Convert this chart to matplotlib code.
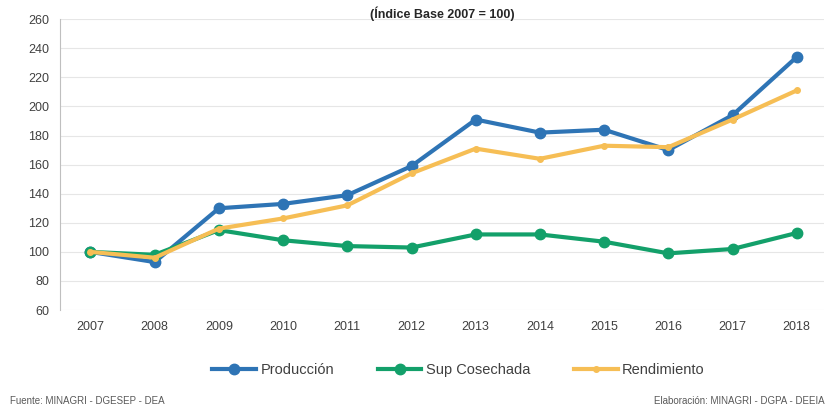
import matplotlib.pyplot as plt

# Indices (base 2007 = 100)
years = ['2007', '2008', '2009', '2010', '2011', '2012',
         '2013', '2014', '2015', '2016', '2017', '2018']
produccion = [100, 93, 130, 133, 139, 159, 191, 182, 184, 170, 194, 234]
sup_cosechada = [100, 98, 115, 108, 104, 103, 112, 112, 107, 99, 102, 113]
rendimiento = [100, 96, 116, 123, 132, 154, 171, 164, 173, 172, 191, 211]

y_ticks = list(range(60, 261, 20))

plt.rcParams['font.family'] = ['Liberation Sans', 'DejaVu Sans']

fig = plt.figure(figsize=(8.26, 4.08), dpi=100)
ax = fig.add_axes([0.073, 0.240, 0.925, 0.713])

x = list(range(len(years)))
ax.plot(x, produccion, color='#2E74B5', lw=3, marker='o', ms=7.5, label='Producción', zorder=3)
ax.plot(x, sup_cosechada, color='#13A06A', lw=3, marker='o', ms=7.5, label='Sup Cosechada', zorder=3)
ax.plot(x, rendimiento, color='#F6BE55', lw=3, marker='o', ms=4, label='Rendimiento', zorder=4)

ax.set_xlim(-0.47, 11.43)
ax.set_ylim(60, 260)
ax.set_yticks(y_ticks)
ax.set_xticks(x)
ax.set_xticklabels(years)
ax.grid(axis='y', color='#E6E6E6', lw=0.8)
ax.set_axisbelow(True)
for side in ['top', 'right', 'bottom']:
    ax.spines[side].set_visible(False)
ax.spines['left'].set_color('#BFBFBF')
ax.tick_params(length=0, labelsize=9, colors='#404040', pad=8)

fig.text(0.535, 0.985, '(Índice Base 2007 = 100)', ha='center', va='top',
         fontsize=9, fontweight='bold', color='#262626')

fig.legend(loc='center', bbox_to_anchor=(0.555, 0.093), ncol=3, frameon=False,
           fontsize=10.5, handlelength=3, handletextpad=0.3, columnspacing=3.0,
           labelcolor='#404040')

fig.text(0.012, 0.005, 'Fuente: MINAGRI - DGESEP - DEA', ha='left', va='bottom',
         fontsize=7, color='#595959')
fig.text(0.998, 0.005, 'Elaboración: MINAGRI - DGPA - DEEIA', ha='right', va='bottom',
         fontsize=7, color='#595959')

fig.savefig('out.png', dpi=100)
